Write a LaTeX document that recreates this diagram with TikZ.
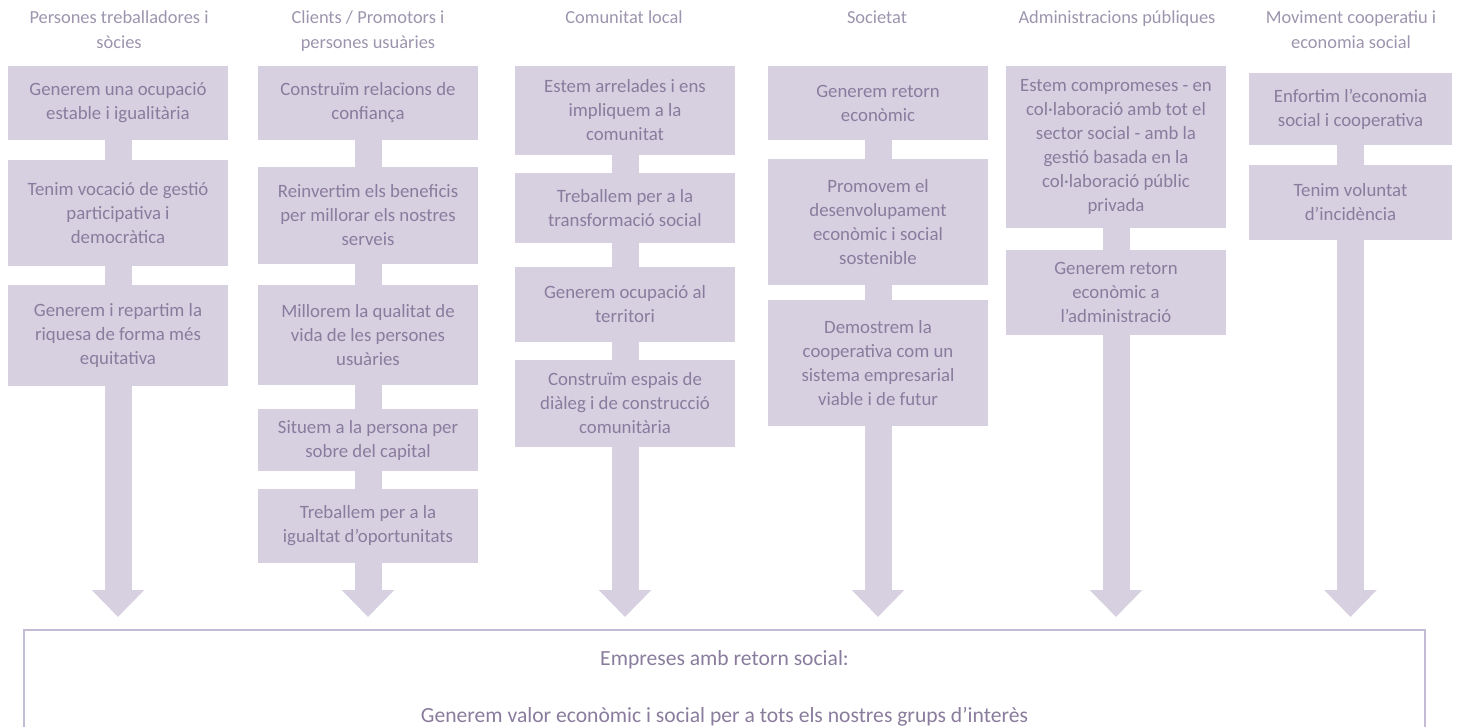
\documentclass[tikz,border=0pt]{standalone}
\usepackage{fontspec}
\setmainfont{Carlito}
\usepackage{tikz}
\usetikzlibrary{arrows.meta}
\usepackage{color}
\definecolor{boxfill}{HTML}{D6D0E1}
\definecolor{boxtext}{HTML}{8A7C9D}
\definecolor{headtext}{HTML}{9D94AD}
\definecolor{frame}{HTML}{C4BCD5}

\begin{document}
\begin{tikzpicture}[x=0.5pt, y=-0.5pt,
        goal/.style={rectangle, fill=boxfill, text=boxtext, minimum width=110pt, inner sep=0pt, align=center, font=\fontsize{9.4}{12}\selectfont},
        group/.style={anchor=north, text=headtext, inner sep=0pt, align=center, font=\fontsize{9.2}{12.8}\selectfont},
        shaft/.style={draw=boxfill, line width=13.5pt},
        head/.style={shaft, -{Triangle[length=13.5pt, width=25.5pt]}},
      ]
      \useasboundingbox (0,0) rectangle (1458,727);
      \clip (0,0) rectangle (1458,727);

      % group headers
      \node (hWorkers) [group] at (119,10) {Persones treballadores i\\sòcies};
      \node (hClients) [group] at (368,10) {Clients / Promotors i\\persones usuàries};
      \node (hLocal) [group] at (624,10) {Comunitat local};
      \node (hSociety) [group] at (877,10) {Societat};
      \node (hAdmin) [group] at (1117,10) {Administracions públiques};
      \node (hMovement) [group] at (1351,10) {Moviment cooperatiu i\\economia social};

      % persones treballadores
      \node (workers1) [goal, minimum height=37pt] at (118,103) {Generem una ocupació\\estable i igualitària};
      \node (workers2) [goal, minimum height=53pt] at (118,213) {Tenim vocació de gestió\\participativa i\\democràtica};
      \node (workers3) [goal, minimum height=50.5pt] at (118,335.5) {Generem i repartim la\\riquesa de forma més\\equitativa};
      \coordinate (workersEnd) at (118,617);

      % clients
      \node (clients1) [goal, minimum height=37pt] at (368,103) {Construïm relacions de\\confiança};
      \node (clients2) [goal, minimum height=48.5pt] at (368,215.5) {Reinvertim els beneficis\\per millorar els nostres\\serveis};
      \node (clients3) [goal, minimum height=50pt] at (368,335) {Millorem la qualitat de\\vida de les persones\\usuàries};
      \node (clients4) [goal, minimum height=31pt] at (368,440) {Situem a la persona per\\sobre del capital};
      \node (clients5) [goal, minimum height=37pt] at (368,526) {Treballem per a la\\igualtat d’oportunitats};
      \coordinate (clientsEnd) at (368,617);

      % comunitat local
      \node (local1) [goal, minimum height=44.5pt] at (625,110.5) {Estem arrelades i ens\\impliquem a la\\comunitat};
      \node (local2) [goal, minimum height=35pt] at (625,208) {Treballem per a la\\transformació social};
      \node (local3) [goal, minimum height=37.5pt] at (625,304.5) {Generem ocupació al\\territori};
      \node (local4) [goal, minimum height=43.5pt] at (625,403.5) {Construïm espais de\\diàleg i de construcció\\comunitària};
      \coordinate (localEnd) at (625,617);

      % societat
      \node (society1) [goal, minimum height=37pt] at (878,103) {Generem retorn\\econòmic};
      \node (society2) [goal, minimum height=63pt] at (878,222) {Promovem el\\desenvolupament\\econòmic i social\\sostenible};
      \node (society3) [goal, minimum height=63pt] at (878,363) {Demostrem la\\cooperativa com un\\sistema empresarial\\viable i de futur};
      \coordinate (societyEnd) at (878,617);

      % administracions
      \node (admin1) [goal, minimum height=81pt] at (1116,147) {Estem compromeses - en\\col·laboració amb tot el\\sector social - amb la\\gestió basada en la\\col·laboració públic\\privada};
      \node (admin2) [goal, minimum height=42.5pt] at (1116,292.5) {Generem retorn\\econòmic a\\l'administració};
      \coordinate (adminEnd) at (1116,617);

      % moviment cooperatiu
      \node (movement1) [goal, minimum width=101.5pt, minimum height=36pt] at (1350.5,109) {Enfortim l'economia\\social i cooperativa};
      \node (movement2) [goal, minimum width=101.5pt, minimum height=37.5pt] at (1350.5,202.5) {Tenim voluntat\\d'incidència};
      \coordinate (movementEnd) at (1350.5,617);

      % shafts and heads
      \draw[shaft] (workers1) -- (workers2) (workers2) -- (workers3);
      \draw[head] (workers3) -- (workersEnd);
      \draw[shaft] (clients1) -- (clients2) (clients2) -- (clients3) (clients3) -- (clients4) (clients4) -- (clients5);
      \draw[head] (clients5) -- (clientsEnd);
      \draw[shaft] (local1) -- (local2) (local2) -- (local3) (local3) -- (local4);
      \draw[head] (local4) -- (localEnd);
      \draw[shaft] (society1) -- (society2) (society2) -- (society3);
      \draw[head] (society3) -- (societyEnd);
      \draw[shaft] (admin1) -- (admin2);
      \draw[head] (admin2) -- (adminEnd);
      \draw[shaft] (movement1) -- (movement2);
      \draw[head] (movement2) -- (movementEnd);

      % result
      \node (outcome) [draw=frame, line width=1pt, anchor=north west, minimum width=700.5pt, minimum height=58pt,
        text=boxtext, align=center, font=\fontsize{10.8}{13}\selectfont] at (23,629)
        {Empreses amb retorn social:\\[15.5pt]Generem valor econòmic i social per a tots els nostres grups d’interès};
\end{tikzpicture}
\end{document}
